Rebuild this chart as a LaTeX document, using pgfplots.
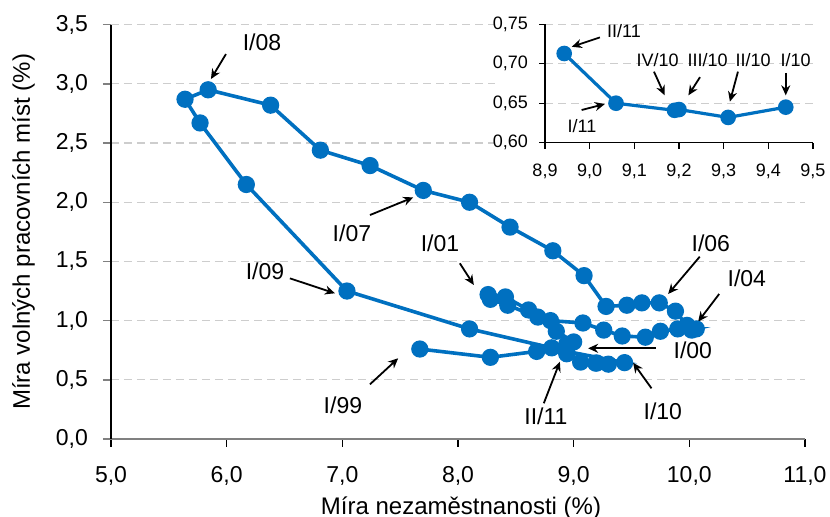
\documentclass[border=0pt]{standalone}
\usepackage{fontspec}
\setmainfont{Liberation Sans}
\usepackage{pgfplots}
\pgfplotsset{compat=1.18}
\usetikzlibrary{arrows.meta,calc}
\definecolor{serblue}{RGB}{0,112,192}
\definecolor{gridgray}{RGB}{205,205,205}

\begin{document}
\begin{tikzpicture}[
  lab/.style={font=\fontsize{11.5}{13}\selectfont, inner sep=0pt},
  slab/.style={font=\fontsize{9}{10}\selectfont, inner sep=0pt},
  arr/.style={-{Stealth[length=5pt,width=4.5pt]}, line width=0.9pt},
]
\begin{axis}[
  name=main, at={(0,0)}, anchor=south west,
  scale only axis, width=347pt, height=207.15pt,
  xmin=5, xmax=11, ymin=0, ymax=3.5,
  xtick={5,6,7,8,9,10,11}, ytick={0,0.5,1,1.5,2,2.5,3,3.5},
  axis lines*=left, clip=false,
  x axis line style={draw=gray, line width=0.7pt},
  y axis line style={draw=black, line width=0.6pt},
  tick align=outside, major tick length=4pt,
  xtick style={black, line width=0.6pt},
  ytick style={gray, line width=0.7pt},
  ymajorgrids, grid style={gridgray, dash pattern=on 4pt off 2.5pt, line width=0.6pt},
  tick label style={font=\fontsize{11.5}{13}\selectfont},
  xticklabel style={yshift=-6pt},
  yticklabel style={xshift=-4pt},
  /pgf/number format/fixed, /pgf/number format/fixed zerofill,
  /pgf/number format/precision=1, /pgf/number format/use comma,
  /pgf/number format/assume math mode=true,
]
\addplot[serblue, line width=1.8pt, mark=*, mark size=3.4pt,
  mark options={fill=serblue, draw=serblue}] coordinates {
  (7.67,0.76) (8.28,0.69) (8.68,0.74) (8.94,0.80) (9.00,0.82)
  (8.85,0.91) (8.69,1.03) (8.43,1.13) (8.28,1.18) (8.26,1.22)
  (8.41,1.20) (8.61,1.09) (8.80,1.00) (9.08,0.98) (9.26,0.92)
  (9.42,0.87) (9.62,0.86) (9.75,0.91) (9.90,0.93) (10.06,0.93)
  (10.02,0.92) (9.98,0.96) (9.88,1.08) (9.74,1.15) (9.59,1.15)
  (9.46,1.13) (9.28,1.12) (9.09,1.38) (8.82,1.59) (8.45,1.79)
  (8.10,2.00) (7.70,2.10) (7.24,2.31) (6.81,2.44) (6.38,2.82)
  (5.84,2.95) (5.64,2.87) (5.77,2.67) (6.17,2.15) (7.04,1.25)
  (8.10,0.93) (8.81,0.77) (8.94,0.74) (9.44,0.645) (9.30,0.632)
  (9.20,0.642) (9.19,0.641) (9.06,0.65) (8.94,0.72)
};
% annotations
\node[lab] at (axis cs:6.305,3.353) {I/08};
\draw[arr] (axis cs:5.994,3.252) -- (axis cs:5.864,3.041);
\node[lab] at (axis cs:7.083,1.740) {I/07};
\draw[arr] (axis cs:7.239,1.892) -- (axis cs:7.613,2.041);
\node[lab] at (axis cs:7.844,1.655) {I/01};
\draw[arr] (axis cs:8.016,1.484) -- (axis cs:8.137,1.301);
\node[lab] at (axis cs:6.331,1.415) {I/09};
\draw[arr] (axis cs:6.547,1.357) -- (axis cs:6.936,1.231);
\node[lab] at (axis cs:7.005,0.287) {I/99};
\draw[arr] (axis cs:7.239,0.462) -- (axis cs:7.483,0.682);
\node[lab] at (axis cs:8.760,0.194) {II/11};
\draw[arr] (axis cs:8.742,0.302) -- (axis cs:8.881,0.653);
\node[lab] at (axis cs:9.771,0.236) {I/10};
\draw[arr] (axis cs:9.673,0.428) -- (axis cs:9.514,0.644);
\node[lab] at (axis cs:10.03,0.752) {I/00};
\draw[arr] (axis cs:9.71,0.766) -- (axis cs:9.125,0.766);
\node[lab] at (axis cs:10.186,1.653) {I/06};
\draw[arr] (axis cs:10.09,1.540) -- (axis cs:9.817,1.225);
\node[lab] at (axis cs:10.497,1.360) {I/04};
\draw[arr] (axis cs:10.258,1.225) -- (axis cs:10.076,0.991);
\end{axis}

\node[rotate=90, anchor=base, font=\fontsize{12}{14}\selectfont, inner sep=0pt]
  at ($(main.west)+(-40.5pt,0)$) {Míra volných pracovních míst (\%)};
\node[anchor=base, font=\fontsize{12}{14}\selectfont, inner sep=0pt]
  at ($(main.south)+(1.5pt,-38pt)$) {Míra nezaměstnanosti (\%)};

\fill[white] ($(main.south west)+(192pt,128.5pt)$) rectangle ($(main.south west)+(359.5pt,219.5pt)$);

\begin{axis}[
  at={($(main.south west)+(217pt,148.15pt)$)}, anchor=south west,
  scale only axis, width=134pt, height=59.2pt,
  xmin=8.9, xmax=9.5, ymin=0.6, ymax=0.75,
  xtick={8.9,9,9.1,9.2,9.3,9.4,9.5}, ytick={0.6,0.65,0.7,0.75},
  axis lines*=left, clip=false,
  axis line style={draw=black, line width=0.6pt},
  tick align=outside, major tick length=3pt,
  tick style={black, line width=0.6pt},
  ymajorgrids, grid style={gridgray, dash pattern=on 4pt off 2.5pt, line width=0.6pt},
  tick label style={font=\fontsize{9}{10}\selectfont},
  xticklabel style={yshift=-4pt, /pgf/number format/fixed, /pgf/number format/fixed zerofill,
    /pgf/number format/precision=1, /pgf/number format/use comma,
    /pgf/number format/assume math mode=true},
  yticklabel style={xshift=-2pt, /pgf/number format/fixed, /pgf/number format/fixed zerofill,
    /pgf/number format/precision=2, /pgf/number format/use comma,
    /pgf/number format/assume math mode=true},
]
\addplot[serblue, line width=1.6pt, mark=*, mark size=3.1pt,
  mark options={fill=serblue, draw=serblue}] coordinates {
  (9.439,0.645) (9.310,0.632) (9.200,0.642) (9.190,0.641) (9.059,0.650) (8.943,0.713)
};
\node[slab] at (axis cs:9.077,0.741) {II/11};
\draw[arr] (axis cs:9.023,0.7334) -- (axis cs:8.960,0.7215);
\node[slab] at (axis cs:8.983,0.621) {I/11};
\draw[arr] (axis cs:8.982,0.6414) -- (axis cs:9.034,0.6490);
\node[slab] at (axis cs:9.152,0.7043) {IV/10};
\draw[arr] (axis cs:9.144,0.690) -- (axis cs:9.168,0.660);
\node[slab] at (axis cs:9.264,0.7043) {III/10};
\draw[arr] (axis cs:9.247,0.683) -- (axis cs:9.221,0.660);
\node[slab] at (axis cs:9.366,0.7043) {II/10};
\draw[arr] (axis cs:9.332,0.690) -- (axis cs:9.314,0.652);
\node[slab] at (axis cs:9.461,0.7043) {I/10};
\draw[arr] (axis cs:9.439,0.6886) -- (axis cs:9.439,0.660);
\end{axis}

\pgfresetboundingbox
\path[use as bounding box] ($(main.south west)+(-55.5pt,-39pt)$) rectangle ($(main.south west)+(359.5pt,219.5pt)$);
\end{tikzpicture}
\end{document}
